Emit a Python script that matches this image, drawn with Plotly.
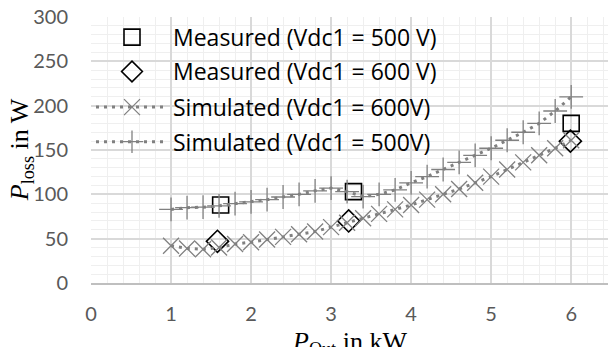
import plotly.graph_objects as go

# ---- data ----
sim_x = [1.0, 1.2, 1.4, 1.6, 1.8, 2.0, 2.2, 2.4, 2.6, 2.8, 3.0, 3.2, 3.4,
         3.6, 3.8, 4.0, 4.2, 4.4, 4.6, 4.8, 5.0, 5.2, 5.4, 5.6, 5.8, 6.0]
sim_600 = [42, 39, 38, 40, 44, 46, 49, 52, 55, 58, 63, 68, 73,
           78, 83, 88, 94, 100, 106, 113, 120, 128, 136, 144, 152, 161]
sim_500 = [83, 85, 85.5, 87, 89.5, 91.5, 94, 97, 100, 104, 107, 103, 97.5,
           100, 105, 113, 120, 128, 136, 144, 152, 161, 170, 180, 194, 210]
meas500_x = [1.62, 3.28, 6.0]
meas500_y = [88, 103, 180]
meas600_x = [1.58, 3.22, 5.99]
meas600_y = [47, 70, 160]

x_ticks = [0, 1, 2, 3, 4, 5, 6]
y_ticks = [0, 50, 100, 150, 200, 250, 300]

names = ["Measured (Vdc1 = 500 V)", "Measured (Vdc1 = 600 V)",
         "Simulated (Vdc1 = 600V)", "Simulated (Vdc1 = 500V)"]

GRAY = "#808080"
TICKFONT = dict(family="Lato, Open Sans, sans-serif", size=20, color="#595959")
LEGFONT = dict(family="Open Sans, sans-serif", size=23, color="black")

fig = go.Figure()
fig.add_trace(go.Scatter(
    x=meas500_x, y=meas500_y, mode="markers", name=names[0], legend="legend",
    marker=dict(symbol="square-open", size=16, color="black", line=dict(width=1.6))))
fig.add_trace(go.Scatter(
    x=meas600_x, y=meas600_y, mode="markers", name=names[1], legend="legend2",
    marker=dict(symbol="diamond-open", size=17, color="black", line=dict(width=1.6))))
fig.add_trace(go.Scatter(
    x=sim_x, y=sim_600, mode="lines+markers", name=names[2], legend="legend3",
    line=dict(color=GRAY, width=3, dash="3px,5px"),
    marker=dict(symbol="x-thin-open", size=16, color=GRAY, line=dict(width=1.3, color=GRAY))))
fig.add_trace(go.Scatter(
    x=sim_x, y=sim_500, mode="lines+markers", name=names[3], legend="legend4",
    line=dict(color=GRAY, width=3, dash="3px,5px"),
    marker=dict(symbol="cross-thin-open", size=17, color=GRAY, line=dict(width=1.3, color=GRAY))))

def leg(ypos):
    return dict(x=0.0, y=ypos, xanchor="left", yanchor="middle",
                bgcolor="rgba(0,0,0,0)", borderwidth=0, font=LEGFONT,
                itemwidth=72, tracegroupgap=0)

fig.update_layout(
    width=608, height=347,
    margin=dict(l=91, r=0, t=17, b=64),
    paper_bgcolor="white", plot_bgcolor="white",
    showlegend=True,
    legend=leg(0.924), legend2=leg(0.795), legend3=leg(0.661), legend4=leg(0.531),
    xaxis=dict(range=[0, 6.46], tickvals=x_ticks, ticktext=[str(v) for v in x_ticks],
               showgrid=True, gridcolor="#d9d9d9", gridwidth=1.5,
               minor=dict(dtick=0.2, showgrid=True, gridcolor="#efefef", gridwidth=1),
               zeroline=False, showline=True, linecolor="#bfbfbf", linewidth=1.5,
               ticks="", tickfont=TICKFONT, ticklabelstandoff=12),
    yaxis=dict(range=[0, 300], tickvals=y_ticks, ticktext=[str(v) for v in y_ticks],
               showgrid=True, gridcolor="#d9d9d9", gridwidth=1.5,
               minor=dict(dtick=10, showgrid=True, gridcolor="#efefef", gridwidth=1),
               zeroline=False, showline=False,
               ticks="", tickfont=TICKFONT, ticklabelstandoff=22),
)

fig.add_annotation(
    xref="paper", yref="paper", x=-0.135, y=0.5, xanchor="center", yanchor="middle",
    text="<i>P</i><sub>loss</sub> in W", textangle=-90, showarrow=False,
    font=dict(family="Liberation Serif, Times New Roman, serif", size=26, color="black"))
fig.add_annotation(
    xref="paper", yref="paper", x=0.5, y=-0.158, xanchor="center", yanchor="top",
    text="<i>P</i><sub>Out</sub> in kW", showarrow=False,
    font=dict(family="Liberation Serif, Times New Roman, serif", size=26, color="black"))

fig.write_html("out.html")
